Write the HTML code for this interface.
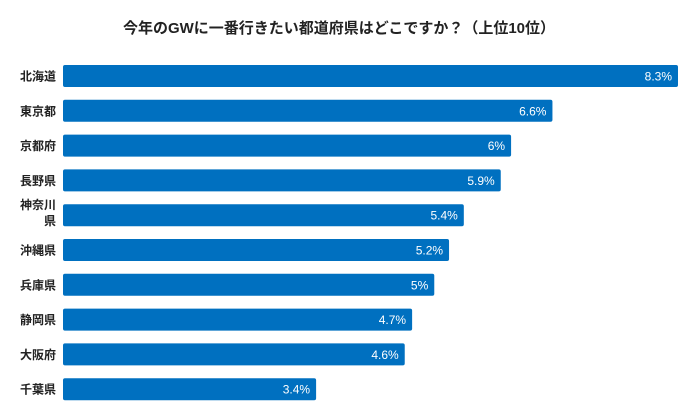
<!DOCTYPE html>
<html><head><meta charset="utf-8"><style>
body{margin:0;background:#fff;width:678px;height:413px;overflow:hidden;font-family:"Liberation Sans","Noto Sans CJK JP",sans-serif}
</style></head><body>
<svg width="678" height="413">
<text x="339" y="33" text-anchor="middle" font-size="15" font-weight="bold" fill="#222">今年のGWに一番行きたい都道府県はどこですか？（上位10位）</text>
<g id="bars"></g>
</svg>
<script>
const categories=["北海道","東京都","京都府","長野県","神奈川県","沖縄県","兵庫県","静岡県","大阪府","千葉県"];
const values=[8.3,6.6,6.04,5.9,5.4,5.2,5,4.7,4.6,3.4];
const valueLabels=["8.3%","6.6%","6%","5.9%","5.4%","5.2%","5%","4.7%","4.6%","3.4%"];
const NS="http://www.w3.org/2000/svg";
const x0=65,x1=678,maxV=8.3;
const xScale=v=>x0+(v/maxV)*(x1-x0);
const yTop=i=>65+i*34.8;
const g=document.getElementById('bars');
categories.forEach((c,i)=>{
  const y=yTop(i);
  const r=document.createElementNS(NS,'rect');
  
  
  r.setAttribute('x',63);r.setAttribute('y',y);
  r.setAttribute('width',xScale(values[i])-63);r.setAttribute('height',22);
  r.setAttribute('rx',2);r.setAttribute('fill','#0070c0');
  g.appendChild(r);
  const v=document.createElementNS(NS,'text');
  
  
  v.setAttribute('x',xScale(values[i])-6);v.setAttribute('y',y+15.5);
  v.setAttribute('text-anchor','end');v.setAttribute('font-size','12');v.setAttribute('fill','#fff');
  v.textContent=valueLabels[i];g.appendChild(v);
  const t=document.createElementNS(NS,'text');
  
  
  t.setAttribute('text-anchor','end');t.setAttribute('font-size','12');t.setAttribute('font-weight','bold');t.setAttribute('fill','#222');
  if(c.length>3){
    const a=document.createElementNS(NS,'tspan');a.setAttribute('x',56);a.setAttribute('y',y+5);a.textContent=c.slice(0,3);t.appendChild(a);
    const b=document.createElementNS(NS,'tspan');b.setAttribute('x',56);b.setAttribute('y',y+21);b.textContent=c.slice(3);t.appendChild(b);
  } else {t.setAttribute('x',56);t.setAttribute('y',y+15.5);t.textContent=c;}
  g.appendChild(t);
});
</script>
</body></html>
